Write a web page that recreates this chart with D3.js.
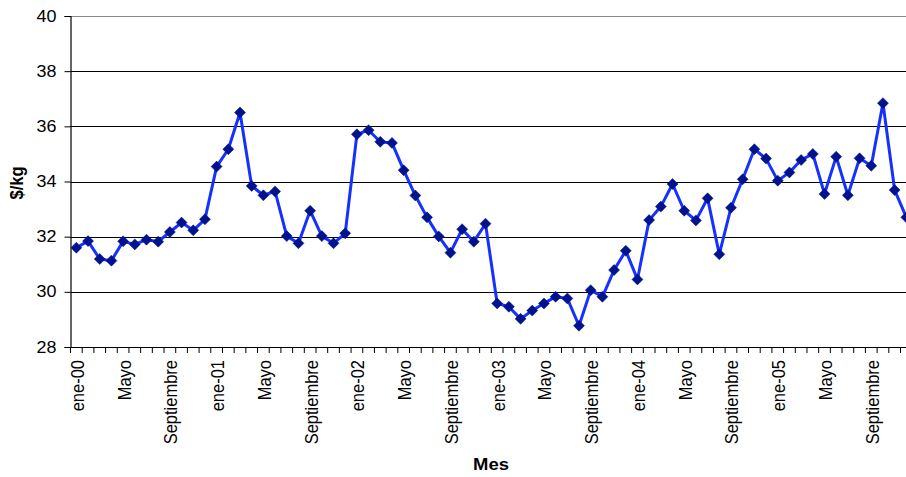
<!DOCTYPE html>
<html>
<head>
<meta charset="utf-8">
<script src="https://cdn.jsdelivr.net/npm/d3@7"></script>
<style>
  html, body { margin: 0; padding: 0; background: #fff; overflow: hidden; }
  text { font-family: Arial, "Liberation Sans", sans-serif; }
</style>
</head>
<body>
<svg id="chart" width="906" height="477"></svg>
<script>
const months = [
  "ene-00","feb-00","mar-00","abr-00","may-00","jun-00","jul-00","ago-00","sep-00","oct-00","nov-00","dic-00",
  "ene-01","feb-01","mar-01","abr-01","may-01","jun-01","jul-01","ago-01","sep-01","oct-01","nov-01","dic-01",
  "ene-02","feb-02","mar-02","abr-02","may-02","jun-02","jul-02","ago-02","sep-02","oct-02","nov-02","dic-02",
  "ene-03","feb-03","mar-03","abr-03","may-03","jun-03","jul-03","ago-03","sep-03","oct-03","nov-03","dic-03",
  "ene-04","feb-04","mar-04","abr-04","may-04","jun-04","jul-04","ago-04","sep-04","oct-04","nov-04","dic-04",
  "ene-05","feb-05","mar-05","abr-05","may-05","jun-05","jul-05","ago-05","sep-05","oct-05","nov-05","dic-05"
];
const prices = [
  31.60, 31.84, 31.19, 31.13, 31.83, 31.72, 31.89, 31.82, 32.17, 32.51, 32.23, 32.63,
  34.54, 35.17, 36.50, 33.84, 33.50, 33.64, 32.02, 31.76, 32.94, 32.02, 31.76, 32.12,
  35.71, 35.86, 35.44, 35.40, 34.41, 33.49, 32.70, 32.01, 31.42, 32.27, 31.82, 32.47,
  29.58, 29.46, 29.02, 29.32, 29.58, 29.82, 29.76, 28.77, 30.06, 29.82, 30.79, 31.49,
  30.45, 32.60, 33.09, 33.91, 32.94, 32.59, 33.39, 31.36, 33.05, 34.08, 35.17, 34.83,
  34.03, 34.33, 34.78, 35.00, 33.55, 34.90, 33.50, 34.84, 34.57, 36.84, 33.69, 32.70
];
// Tick labels shown every 4 months
const tickLabels = {
  "ene-00":"ene-00","may-00":"Mayo","sep-00":"Septiembre",
  "ene-01":"ene-01","may-01":"Mayo","sep-01":"Septiembre",
  "ene-02":"ene-02","may-02":"Mayo","sep-02":"Septiembre",
  "ene-03":"ene-03","may-03":"Mayo","sep-03":"Septiembre",
  "ene-04":"ene-04","may-04":"Mayo","sep-04":"Septiembre",
  "ene-05":"ene-05","may-05":"Mayo","sep-05":"Septiembre"
};
const yTicks = [28, 30, 32, 34, 36, 38, 40];

const svg = d3.select("#chart");
const mLeft = 70.5, mTop = 16, mBottom = 347;
const band = 11.69;
const mRight = mLeft + band * months.length;

const x = d3.scaleBand().domain(months).range([mLeft, mRight]).paddingInner(0).paddingOuter(0);
const y = d3.scaleLinear().domain([28, 40]).range([mBottom, mTop]);
const cx = d => x(d) + x.bandwidth() / 2;

// gridlines
svg.append("g").selectAll("line").data(yTicks.filter(t => t > 28)).join("line")
  .attr("x1", mLeft).attr("x2", mRight)
  .attr("y1", d => Math.round(y(d)) + 0.5).attr("y2", d => Math.round(y(d)) + 0.5)
  .attr("stroke", d => d === 40 ? "#888" : "#000").attr("stroke-width", 1);

// y axis
const yAxis = svg.append("g").attr("transform", `translate(${mLeft},0)`)
  .call(d3.axisLeft(y).tickValues(yTicks).tickSize(6).tickPadding(6).tickFormat(d3.format("d")));
yAxis.select(".domain").attr("stroke", "#000").attr("stroke-width", 1.2);
yAxis.selectAll(".tick line").attr("stroke", "#000");
yAxis.selectAll(".tick text").attr("font-size", 16).attr("fill", "#000")
  .attr("font-family", "Arial, 'Liberation Sans', sans-serif")
  .attr("transform", "scale(1.12,1)").attr("x", -14 / 1.12);

// x axis line & ticks at category boundaries
svg.append("line").attr("x1", mLeft).attr("x2", mRight).attr("y1", mBottom + 0.5).attr("y2", mBottom + 0.5)
  .attr("stroke", "#000").attr("stroke-width", 1.2);
svg.append("g").selectAll("line").data(months.concat(["__end"])).join("line")
  .attr("x1", (d, i) => mLeft + i * x.bandwidth()).attr("x2", (d, i) => mLeft + i * x.bandwidth())
  .attr("y1", mBottom).attr("y2", mBottom + 6).attr("stroke", "#000");

// x tick labels
svg.append("g").selectAll("text").data(months.filter(m => tickLabels[m])).join("text")
  .attr("transform", d => `translate(${cx(d) + 7.5},${360}) rotate(-90) scale(1,1.12)`)
  .attr("text-anchor", "end")
  .attr("font-size", 16.5).attr("fill", "#000")
  .text(d => tickLabels[d]);

// line
svg.append("path").datum(prices)
  .attr("fill", "none").attr("stroke", "#1530ff").attr("stroke-width", 3).attr("stroke-linejoin", "round")
  .attr("d", d3.line().x((d, i) => cx(months[i])).y(d => y(d)));

// markers
svg.append("g").selectAll("path").data(prices).join("path")
  .attr("transform", (d, i) => `translate(${cx(months[i])},${y(d)})`)
  .attr("d", "M0,-5.5L5.5,0L0,5.5L-5.5,0Z")
  .attr("fill", "#00138c").attr("stroke", "#00138c").attr("stroke-width", 0.5);

// axis titles
svg.append("text").attr("transform", "translate(23,183) rotate(-90) scale(1,1.12)")
  .attr("text-anchor", "middle").attr("font-size", 16.5).attr("font-weight", "bold").attr("fill", "#000")
  .text("$/kg");
svg.append("text").attr("transform", "translate(491,470) scale(1.12,1)")
  .attr("text-anchor", "middle").attr("font-size", 16.5).attr("font-weight", "bold").attr("fill", "#000")
  .text("Mes");
</script>
</body>
</html>
